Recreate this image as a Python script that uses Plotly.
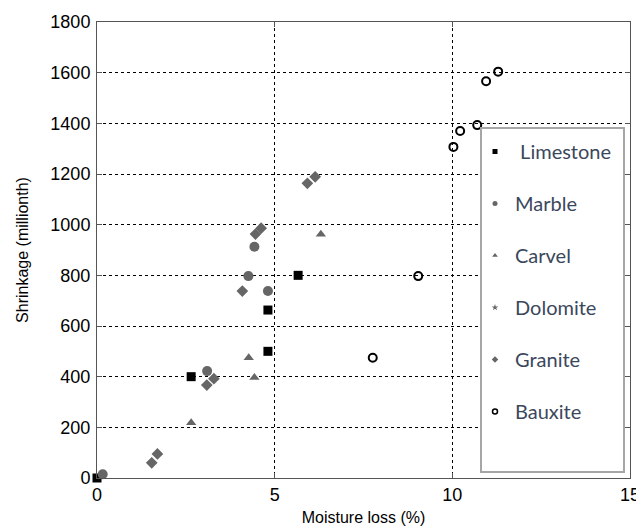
import plotly.graph_objects as go

limestone_x = [0.0, 2.65, 4.81, 4.81, 5.66]
limestone_y = [0, 400, 663, 500, 800]

marble_x = [0.16, 3.10, 4.26, 4.43, 4.81]
marble_y = [15, 422, 797, 913, 738]

carvel_x = [2.65, 4.27, 4.43, 6.30]
carvel_y = [218, 475, 397, 962]

dolomite_x = [1.54, 3.09, 4.46, 5.92]
dolomite_y = [60, 367, 963, 1163]

granite_x = [1.70, 3.29, 4.09, 4.62, 6.14]
granite_y = [95, 392, 738, 986, 1189]

bauxite_x = [7.76, 9.04, 10.03, 10.22, 10.70, 10.95, 11.29]
bauxite_y = [475, 797, 1307, 1370, 1393, 1566, 1604]

names = ["Limestone", "Marble", "Carvel", "Dolomite", "Granite", "Bauxite"]
xs = [limestone_x, marble_x, carvel_x, dolomite_x, granite_x, bauxite_x]
ys = [limestone_y, marble_y, carvel_y, dolomite_y, granite_y, bauxite_y]
plot_symbols = ["square", "circle", "triangle-up", "diamond", "diamond", "circle-open"]
legend_symbols = ["square", "circle", "triangle-up", "star", "diamond", "circle-open"]
colors = ["#000000", "#666666", "#666666", "#666666", "#666666", "#000000"]
plot_sizes = [9, 10, 9, 9, 9, 8]
legend_labels = [" Limestone", "Marble", "Carvel", "Dolomite", "Granite", "Bauxite"]

# page has an 8px body margin; figure placed accordingly
W, H = 636, 524
L, R, T, B = 89, 14, 14, 54
PW = W - L - R
PH = H - T - B


def px_x(p):
    return (p - 8 - L) / PW


def px_y(p):
    return (H - B - (p - 8)) / PH


fig = go.Figure()
for i, n in enumerate(names):
    fig.add_trace(go.Scatter(
        x=xs[i], y=ys[i], mode="markers", name=n, showlegend=False, cliponaxis=False,
        marker=dict(symbol=plot_symbols[i], size=plot_sizes[i], color=colors[i],
                    line=dict(width=2 if i == 5 else 0, color=colors[i])),
    ))
for i, n in enumerate(names):
    fig.add_trace(go.Scatter(
        x=[None], y=[None], mode="markers", name=legend_labels[i],
        legendgroup=n,
        marker=dict(symbol=legend_symbols[i], size=5, color=colors[i],
                    line=dict(width=1.5 if i == 5 else 0, color=colors[i])),
    ))

axis_common = dict(
    showline=True, linecolor="#555555", linewidth=1, mirror="ticks",
    ticks="inside", ticklen=5, tickcolor="#555555",
    showgrid=True, gridcolor="#000000", gridwidth=1, griddash="3px,3px",
    zeroline=False, automargin=False,
    tickfont=dict(family="Liberation Sans, Arial", size=18, color="#000000"),
)

fig.update_xaxes(range=[0, 15], dtick=5, tick0=0,
                 title=dict(text="Moisture loss (%)", font=dict(family="Liberation Sans, Arial", size=16, color="#000000"), standoff=8),
                 **axis_common)
fig.update_yaxes(range=[0, 1800], dtick=200, tick0=0, ticklabelstandoff=2,
                 title=dict(text="Shrinkage (millionth)", font=dict(family="Liberation Sans, Arial", size=16, color="#000000"), standoff=17),
                 **axis_common)

fig.add_shape(type="rect", xref="paper", yref="paper",
              x0=px_x(481), x1=px_x(624),
              y0=px_y(472), y1=px_y(128),
              line=dict(color="#a6a6a6", width=2), fillcolor="white", layer="above")

fig.update_layout(
    width=W, height=H,
    margin=dict(l=L, r=R, t=T, b=B),
    plot_bgcolor="white", paper_bgcolor="white",
    legend=dict(x=px_x(475), y=px_y(132), xanchor="left", yanchor="top",
                bgcolor="rgba(0,0,0,0)", borderwidth=0, tracegroupgap=23,
                font=dict(family="Lato, Open Sans, sans-serif", size=20, color="#3b475c"),
                itemwidth=30),
)

fig.write_html("out.html")
